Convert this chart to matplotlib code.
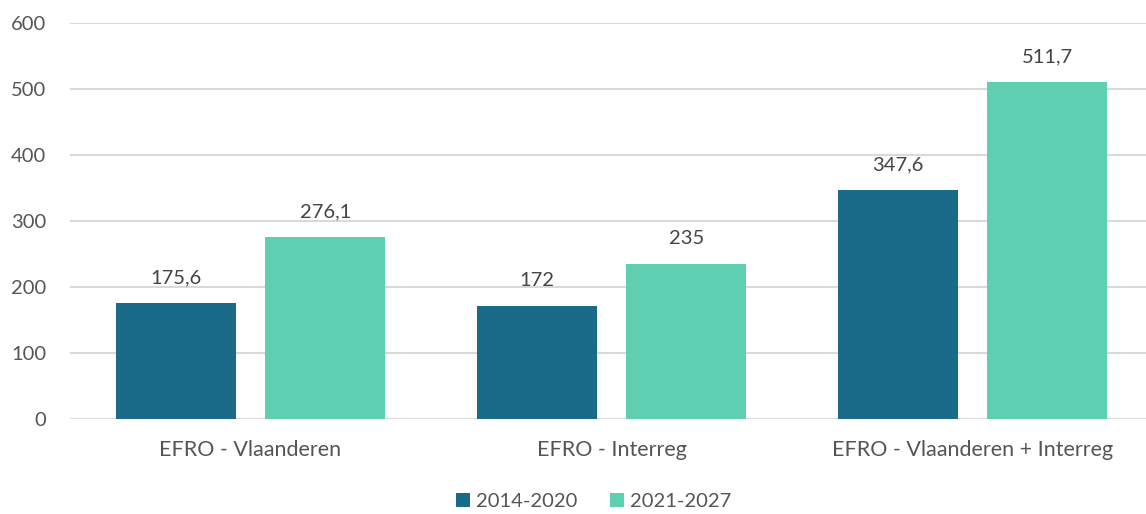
import numpy as np
import matplotlib
matplotlib.use("Agg")
import matplotlib.pyplot as plt

plt.rcParams['font.family'] = ['Lato', 'DejaVu Sans']

categories = ["EFRO - Vlaanderen", "EFRO - Interreg", "EFRO - Vlaanderen + Interreg"]
series_names = ["2014-2020", "2021-2027"]
vals_2014 = [175.6, 172, 347.6]
vals_2021 = [276.1, 235, 511.7]
yticks = [0, 100, 200, 300, 400, 500, 600]

c_dark = "#1a6b89"
c_light = "#5ecfb1"
txt_col = "#444444"

fig = plt.figure(figsize=(11.46, 5.14), dpi=100)
ax = fig.add_axes([0.0611, 0.1848, 0.9450, 0.7695])

x = np.arange(len(categories))
w = 0.332
off = 0.2075
b1 = ax.bar(x - off, vals_2014, w, color=c_dark, label=series_names[0], zorder=3)
b2 = ax.bar(x + off, vals_2021, w, color=c_light, label=series_names[1], zorder=3)

def fmt(v):
    s = f"{v:g}"
    return s.replace(".", ",")

for bars, vals in [(b1, vals_2014), (b2, vals_2021)]:
    for rect, v in zip(bars, vals):
        ax.annotate(fmt(v), (rect.get_x() + rect.get_width() / 2, v),
                    xytext=(0, 12), textcoords="offset points",
                    ha="center", va="bottom", fontsize=14.5, color=txt_col)

ax.set_xlim(-0.5, 2.5)
ax.set_ylim(0, 600)
ax.set_yticks(yticks)
ax.set_xticks(x)
ax.set_xticklabels(categories)
ax.tick_params(axis="both", length=0, labelsize=14.5, labelcolor="#555555")
ax.tick_params(axis="x", pad=15, labelsize=15.5)
ax.tick_params(axis="y", pad=17)
ax.yaxis.grid(True, color="#d9d9d9", linewidth=1.5, zorder=0)
for s in ax.spines.values():
    s.set_visible(False)

fig.legend(loc="center", bbox_to_anchor=(0.518, 0.024), ncol=2, frameon=False,
           fontsize=14.5, handlelength=0.7, handleheight=0.7, handletextpad=0.3,
           columnspacing=1.6, labelcolor="#555555")

fig.savefig("out.png", dpi=100)
